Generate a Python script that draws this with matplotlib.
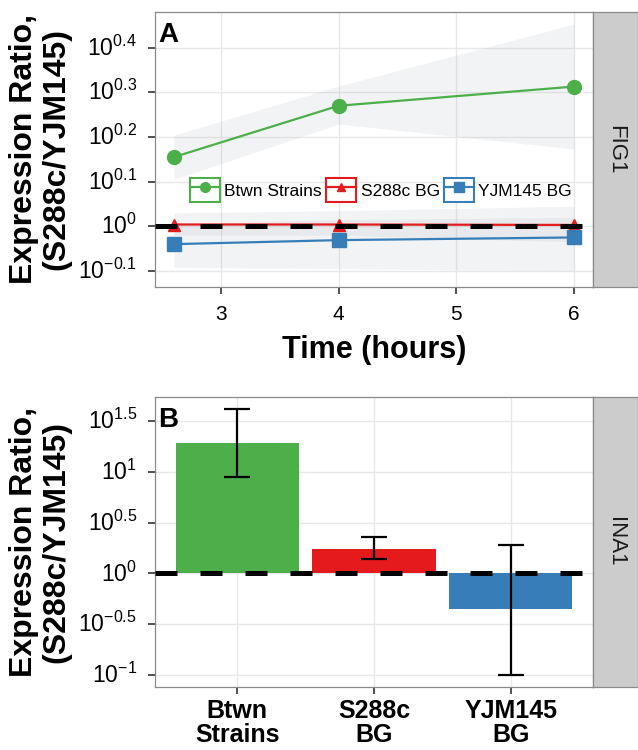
import numpy as np
import matplotlib
matplotlib.use("Agg")
import matplotlib.pyplot as plt
from matplotlib.legend_handler import HandlerLine2D
from matplotlib.patches import Rectangle
from matplotlib.ticker import FixedLocator, FuncFormatter, NullLocator
from matplotlib.transforms import ScaledTranslation

plt.rcParams['font.family'] = ['Liberation Sans', 'DejaVu Sans']
plt.rcParams['mathtext.fontset'] = 'custom'
plt.rcParams['mathtext.rm'] = 'Liberation Sans'

# ---- data (values are log10 of the expression ratio S288c/YJM145) ----
time_hours = [2.6, 4, 6]

fig1_btwn = [0.155, 0.270, 0.313]
fig1_btwn_lo = [0.105, 0.229, 0.173]
fig1_btwn_hi = [0.204, 0.314, 0.453]

fig1_s288c = [0.004, 0.004, 0.003]
fig1_s288c_lo = [-0.020, -0.020, -0.035]
fig1_s288c_hi = [0.030, 0.035, 0.045]

fig1_yjm = [-0.040, -0.031, -0.025]
fig1_yjm_lo = [-0.092, -0.095, -0.100]
fig1_yjm_hi = [0.005, 0.015, 0.020]

ina1_groups = ['Btwn\nStrains', 'S288c\nBG', 'YJM145\nBG']
ina1_ratio = [1.282, 0.237, -0.355]
ina1_err_lo = [0.947, 0.138, -0.996]
ina1_err_hi = [1.617, 0.355, 0.276]

series_names = ['Btwn Strains', 'S288c BG', 'YJM145 BG']
series_colors = ['#4daf4a', '#e41a1c', '#377eb8']
series_markers = ['o', '^', 's']

fig1_yticks = [-0.1, 0, 0.1, 0.2, 0.3, 0.4]
ina1_yticks = [-1, -0.5, 0, 0.5, 1, 1.5]
time_ticks = [3, 4, 5, 6]

YLABEL = 'Expression Ratio,\n(S288c/YJM145)'


class BoxedKeyHandler(HandlerLine2D):
    """Legend key drawn inside a box outlined in the series colour (ggplot look)."""

    def create_artists(self, legend, orig_handle, xdescent, ydescent, width, height, fontsize, trans):
        artists = super().create_artists(legend, orig_handle, xdescent, ydescent,
                                         width, height, fontsize, trans)
        box = Rectangle((-xdescent, -ydescent), width, height, facecolor='white',
                        edgecolor=orig_handle.get_color(), linewidth=1.5, transform=trans)
        return [box] + list(artists)


def pow10_label(value, pos):
    e = round(float(np.log10(value)), 2)
    if abs(e) < 1e-9:
        e = 0
    return r'$\mathregular{10^{%g}}$' % e


def style_panel(ax, log_ticks):
    """theme_bw-ish styling shared by both panels"""
    ax.set_yscale('log')
    ax.yaxis.set_major_locator(FixedLocator([10 ** t for t in log_ticks]))
    ax.yaxis.set_major_formatter(FuncFormatter(pow10_label))
    ax.yaxis.set_minor_locator(NullLocator())
    ax.grid(True, color='#e8e8e8', lw=1.0, zorder=0)
    ax.set_axisbelow(True)
    for s in ax.spines.values():
        s.set_color('#8a8a8a')
        s.set_linewidth(0.9)
    ax.tick_params(length=5, width=1.2, color='#333333', labelsize=15, pad=6, labelcolor='black')
    ax.tick_params(axis='y', labelsize=16.5, pad=8)
    ax.set_ylabel(YLABEL, fontsize=23, fontweight='bold', linespacing=1.1, va='center')
    ax.yaxis.set_label_coords(-0.262, 0.5)


def lift_ytick_labels(fig, ax, points=1.5):
    # superscripted labels sit a bit low; nudge them so "10" lines up with the tick
    for lab in ax.get_yticklabels():
        lab.set_transform(lab.get_transform() + ScaledTranslation(0, points / 72, fig.dpi_scale_trans))


def add_strip(fig, ax, label):
    """Grey facet strip on the right of a panel"""
    pos = ax.get_position()
    sax = fig.add_axes([pos.x1, pos.y0, 1.0 - pos.x1, pos.height])
    sax.set_facecolor('#cccccc')
    sax.set_xticks([])
    sax.set_yticks([])
    for s in sax.spines.values():
        s.set_color('#8a8a8a')
        s.set_linewidth(0.9)
    sax.text(0.5, 0.5, label, rotation=-90, ha='center', va='center', fontsize=16,
             color='#1a1a1a', transform=sax.transAxes)


fig = plt.figure(figsize=(6.38, 7.5), dpi=100)
W, H = 638.0, 750.0

# ---- Panel A: FIG1 time course ----
axA = fig.add_axes([155 / W, 1 - 287 / H, 438 / W, 275 / H])
style_panel(axA, fig1_yticks)

bands = [(fig1_btwn_lo, fig1_btwn_hi), (fig1_s288c_lo, fig1_s288c_hi), (fig1_yjm_lo, fig1_yjm_hi)]
for lo, hi in bands:
    axA.fill_between(time_hours, 10 ** np.array(lo), 10 ** np.array(hi),
                     color='#9aa3ad', alpha=0.12, lw=0, zorder=1)

lines = []
sizes = [10, 9, 9.5]
for vals, name, col, mk, ms in zip([fig1_btwn, fig1_s288c, fig1_yjm], series_names,
                                   series_colors, series_markers, sizes):
    ln, = axA.plot(time_hours, 10 ** np.array(vals), color=col, marker=mk, ms=ms,
                   lw=1.6, label=name, zorder=3)
    lines.append(ln)

axA.axhline(1, color='black', lw=3.6, ls=(0, (4.4, 4.6)), zorder=4)

axA.set_xlim(2.44, 6.16)
axA.set_ylim(10 ** -0.136, 10 ** 0.48)
axA.set_xticks(time_ticks)
axA.tick_params(axis='x', pad=8)
axA.set_xlabel('Time (hours)', fontsize=22, fontweight='bold', labelpad=8)

axA.legend(handles=lines, handler_map={ln: BoxedKeyHandler(numpoints=1) for ln in lines},
           loc='center', bbox_to_anchor=(0.516, 0.353), ncol=3, frameon=False,
           fontsize=12.5, handlelength=1.73, handleheight=1.73, handletextpad=0.25,
           columnspacing=0.25, markerscale=0.7, borderaxespad=0, borderpad=0)

axA.annotate('A', xy=(0, 1), xycoords='axes fraction', xytext=(2.5, -7.5),
             textcoords='offset points', ha='left', va='top', fontsize=20, fontweight='bold')
lift_ytick_labels(fig, axA)
add_strip(fig, axA, 'FIG1')

# ---- Panel B: INA1 bars ----
axB = fig.add_axes([155 / W, 1 - 687 / H, 438 / W, 290 / H])
style_panel(axB, ina1_yticks)

xpos = np.arange(1, len(ina1_groups) + 1)
ratio = 10 ** np.array(ina1_ratio)
axB.bar(xpos, ratio - 1, bottom=1, width=0.9, color=series_colors, zorder=2)
yerr = [ratio - 10 ** np.array(ina1_err_lo), 10 ** np.array(ina1_err_hi) - ratio]
axB.errorbar(xpos, ratio, yerr=yerr, fmt='none', ecolor='black', elinewidth=1.6,
             capsize=9.7, capthick=1.6, zorder=3)
axB.axhline(1, color='black', lw=3.6, ls=(0, (4.4, 4.6)), zorder=4)

axB.set_xlim(0.4, 3.6)
axB.set_ylim(10 ** -1.118, 10 ** 1.737)
axB.set_xticks(xpos, ina1_groups, fontsize=18, fontweight='bold', linespacing=0.98)
axB.tick_params(axis='x', pad=4)

axB.annotate('B', xy=(0, 1), xycoords='axes fraction', xytext=(2.5, -7),
             textcoords='offset points', ha='left', va='top', fontsize=20, fontweight='bold')
lift_ytick_labels(fig, axB)
add_strip(fig, axB, 'INA1')

fig.savefig('out.png', dpi=100)
